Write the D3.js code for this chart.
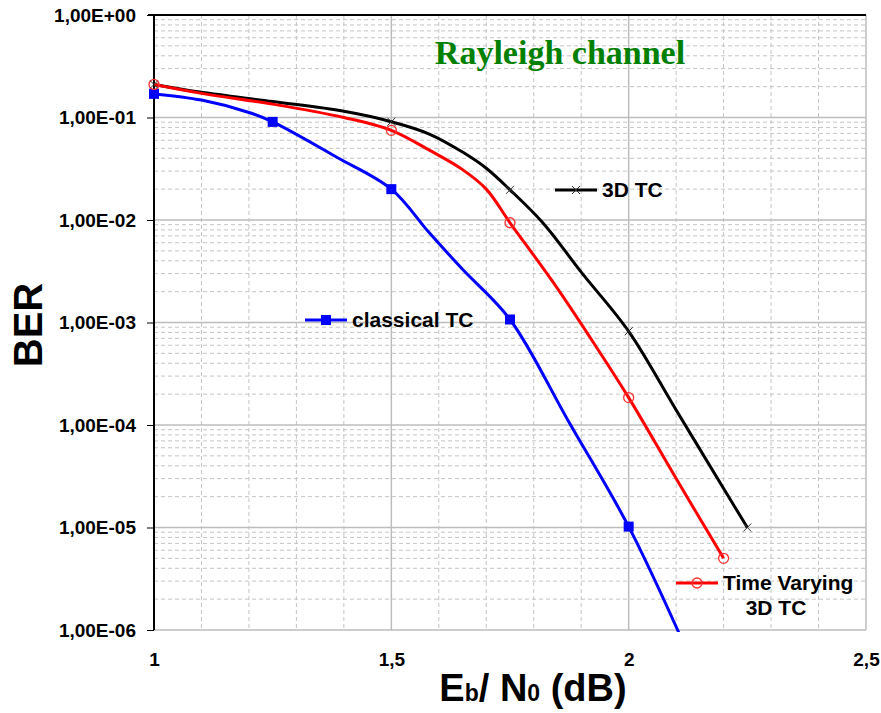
<!DOCTYPE html>
<html>
<head>
<meta charset="utf-8">
<script src="https://cdn.jsdelivr.net/npm/d3@7"></script>
<style>
html,body{margin:0;padding:0;background:#fff;}
svg{display:block;}
text{font-family:"Liberation Sans",Arial,sans-serif;font-weight:bold;fill:#000;}
</style>
</head>
<body>
<svg id="chart" width="881" height="713"></svg>
<script>
// ---- data ----
const xTickValues = [1, 1.5, 2, 2.5];
const xTickLabels = ["1", "1,5", "2", "2,5"];
const yTickValues = [1, 1e-1, 1e-2, 1e-3, 1e-4, 1e-5, 1e-6];
const yTickLabels = ["1,00E+00", "1,00E-01", "1,00E-02", "1,00E-03", "1,00E-04", "1,00E-05", "1,00E-06"];

const seriesNames = ["3D TC", "Time Varying 3D TC", "classical TC"];

const tc3dX = [1, 1.1, 1.25, 1.4, 1.5, 1.58, 1.65, 1.7, 1.75, 1.82, 1.9, 2, 2.1, 2.2, 2.25];
const tc3dY = [0.21, 0.176, 0.143, 0.115, 0.091, 0.069, 0.046, 0.032, 0.0197, 0.0093, 0.0031, 0.00082, 0.00014, 0.000024, 0.00001];
const tc3dMarkX = [1, 1.5, 1.75, 2, 2.25];

const tvX = [1, 1.1, 1.25, 1.4, 1.5, 1.58, 1.65, 1.7, 1.75, 1.84, 1.92, 2, 2.1, 2.2];
const tvY = [0.21, 0.172, 0.135, 0.1, 0.075, 0.048, 0.031, 0.02, 0.0094, 0.0025, 0.0007, 0.000185, 0.00003, 0.000005];
const tvMarkX = [1, 1.5, 1.75, 2, 2.2];

const clX = [1, 1.1, 1.2, 1.25, 1.385, 1.5, 1.58, 1.65, 1.75, 1.875, 2, 2.11];
const clY = [0.17, 0.148, 0.112, 0.0906, 0.041, 0.02, 0.0075, 0.0033, 0.00107, 0.000105, 0.0000102, 0.00000085];
const clMarkX = [1, 1.25, 1.5, 1.75, 2];

const titleText = "Rayleigh channel";

// ---- layout ----
const svg = d3.select("#chart");
const L = 154, R = 866, T = 15, B = 630;
const x = d3.scaleLinear().domain([1, 2.5]).range([L, R]);
const y = d3.scaleLog().domain([1e-6, 1]).range([B, T]);

// minor gridlines
const minorX = d3.range(11, 25).map(d => d / 10).filter(d => Math.abs(d * 2 - Math.round(d * 2)) > 1e-6);
const minorY = [];
for (let e = -6; e < 0; e++) for (let k = 2; k <= 9; k++) minorY.push(k * Math.pow(10, e));

const grid = svg.append("g");
grid.selectAll(".mx").data(minorX).join("line")
  .attr("x1", d => x(d)).attr("x2", d => x(d)).attr("y1", T).attr("y2", B)
  .attr("stroke", "#c4c4c4").attr("stroke-width", 1).attr("stroke-dasharray", "4,3");
grid.selectAll(".my").data(minorY).join("line")
  .attr("x1", L).attr("x2", R).attr("y1", d => y(d)).attr("y2", d => y(d))
  .attr("stroke", "#c4c4c4").attr("stroke-width", 1).attr("stroke-dasharray", "4,3");
// major gridlines
grid.selectAll(".Mx").data([1.5, 2, 2.5]).join("line")
  .attr("x1", d => x(d)).attr("x2", d => x(d)).attr("y1", T).attr("y2", B)
  .attr("stroke", "#bdbdbd").attr("stroke-width", 1.5);
grid.selectAll(".My").data(yTickValues.slice(1)).join("line")
  .attr("x1", L).attr("x2", R).attr("y1", d => y(d)).attr("y2", d => y(d))
  .attr("stroke", "#bdbdbd").attr("stroke-width", 1.5);

// left axis (black) + ticks
const yAxis = d3.axisLeft(y).tickValues(yTickValues).tickFormat((d, i) => yTickLabels[i]).tickSize(7).tickPadding(11);
const gy = svg.append("g").attr("transform", `translate(${L},0)`).call(yAxis);
gy.select(".domain").attr("stroke", "#000").attr("stroke-width", 2).attr("d", `M0,${T}V${B}`);
gy.selectAll(".tick line").attr("stroke", "#000").attr("stroke-width", 1);
gy.selectAll(".tick text").attr("font-size", 19).attr("font-family", "Liberation Sans, Arial, sans-serif").attr("font-weight", "bold").attr("fill", "#000");

// x axis labels
const xAxis = d3.axisBottom(x).tickValues(xTickValues).tickFormat((d, i) => xTickLabels[i]).tickSize(0).tickPadding(23);
const gx = svg.append("g").attr("transform", `translate(0,${B})`).call(xAxis);
gx.select(".domain").remove();
gx.selectAll(".tick text").attr("font-size", 19).attr("font-family", "Liberation Sans, Arial, sans-serif").attr("font-weight", "bold").attr("fill", "#000");

// top border
svg.append("line").attr("x1", L - 6).attr("x2", R).attr("y1", T).attr("y2", T).attr("stroke", "#000").attr("stroke-width", 2);

// clip
svg.append("clipPath").attr("id", "clip").append("rect").attr("x", L).attr("y", T - 10).attr("width", R - L + 10).attr("height", B - T + 12);

const line = d3.line().x(d => x(d[0])).y(d => y(d[1])).curve(d3.curveCatmullRom.alpha(0.5));
const plot = svg.append("g").attr("clip-path", "url(#clip)");

function zip(a, b) { return a.map((v, i) => [v, b[i]]); }
function valAt(xs, ys, xv) { const i = xs.indexOf(xv); return ys[i]; }

plot.append("path").datum(zip(tc3dX, tc3dY)).attr("d", line).attr("fill", "none").attr("stroke", "#000").attr("stroke-width", 3);
plot.append("path").datum(zip(tvX, tvY)).attr("d", line).attr("fill", "none").attr("stroke", "#ff0000").attr("stroke-width", 3);
plot.append("path").datum(zip(clX, clY)).attr("d", line).attr("fill", "none").attr("stroke", "#0000ff").attr("stroke-width", 3);

// markers
function xMark(g, cx, cy) {
  g.append("path").attr("d", `M${cx - 4},${cy - 4}L${cx + 4},${cy + 4}M${cx - 4},${cy + 4}L${cx + 4},${cy - 4}`)
    .attr("stroke", "#333").attr("stroke-width", 1).attr("fill", "none");
}
function circMark(g, cx, cy) {
  g.append("circle").attr("cx", cx).attr("cy", cy).attr("r", 5).attr("fill", "none").attr("stroke", "#ff3030").attr("stroke-width", 1.3);
}
function sqMark(g, cx, cy) {
  g.append("rect").attr("x", cx - 5).attr("y", cy - 5).attr("width", 10).attr("height", 10).attr("fill", "#0000ff");
}
const mk = svg.append("g");
clMarkX.forEach(v => sqMark(mk, x(v), y(valAt(clX, clY, v))));
tvMarkX.forEach(v => circMark(mk, x(v), y(valAt(tvX, tvY, v))));
tc3dMarkX.forEach(v => xMark(mk, x(v), y(valAt(tc3dX, tc3dY, v))));

// legends
function legend(x0, yy, color, markFn) {
  svg.append("line").attr("x1", x0).attr("x2", x0 + 42).attr("y1", yy).attr("y2", yy).attr("stroke", color).attr("stroke-width", 3);
  markFn(svg, x0 + 21, yy);
}
legend(555, 190, "#000", xMark);
svg.append("text").attr("x", 602).attr("y", 197).attr("font-size", 21).text("3D TC");
legend(305, 320, "#0000ff", sqMark);
svg.append("text").attr("x", 352).attr("y", 327).attr("font-size", 21).text("classical TC");
legend(676, 583, "#ff0000", circMark);
svg.append("text").attr("x", 723).attr("y", 590).attr("font-size", 21).text("Time Varying");
svg.append("text").attr("x", 776).attr("y", 615).attr("font-size", 21).attr("text-anchor", "middle").text("3D TC");

// title
svg.append("text").attr("x", 560).attr("y", 64).attr("text-anchor", "middle")
  .attr("font-size", 34)
  .style("font-family", "'Liberation Serif','Times New Roman',serif").style("fill", "#008000").text(titleText);

// y axis title
svg.append("text").attr("transform", "translate(42,325) rotate(-90)").attr("text-anchor", "middle")
  .attr("font-size", 40).text("BER");

// x axis title
const xt = svg.append("text").attr("x", 533).attr("y", 701).attr("text-anchor", "middle").attr("font-size", 38);
xt.append("tspan").text("E");
xt.append("tspan").attr("font-size", 23).text("b");
xt.append("tspan").text("/ N");
xt.append("tspan").attr("font-size", 23).text("0");
xt.append("tspan").text(" (dB)");
</script>
</body>
</html>
